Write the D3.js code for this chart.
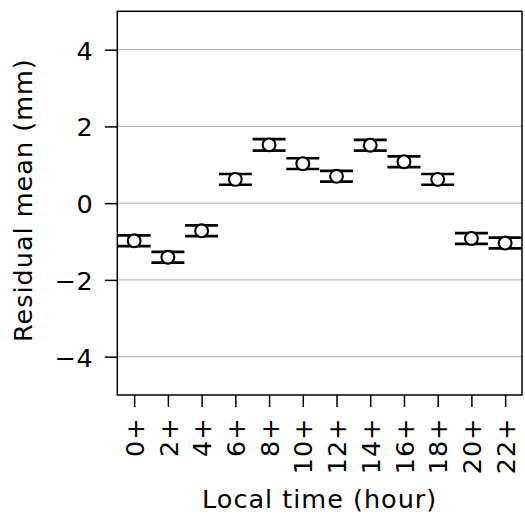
<!DOCTYPE html>
<html>
<head>
<meta charset="utf-8">
<script src="https://cdn.jsdelivr.net/npm/d3@7"></script>
<style>
  html, body { margin: 0; padding: 0; background: #fff; }
  svg text { font-family: "DejaVu Sans", sans-serif; font-size: 25.5px; letter-spacing: 1px; fill: #000; }
</style>
</head>
<body>
<svg id="chart" width="525" height="515"></svg>
<script>
// Mean residual per 2-hour local-time bin, with its uncertainty (mm)
const hours = [0, 2, 4, 6, 8, 10, 12, 14, 16, 18, 20, 22];
const hourLabels = ["0+", "2+", "4+", "6+", "8+", "10+", "12+", "14+", "16+", "18+", "20+", "22+"];
const means = [-0.98, -1.41, -0.72, 0.62, 1.52, 1.03, 0.70, 1.51, 1.08, 0.62, -0.92, -1.04];
const errors = [0.14, 0.14, 0.14, 0.14, 0.15, 0.14, 0.14, 0.14, 0.14, 0.14, 0.14, 0.14];
const yTicks = [-4, -2, 0, 2, 4];

const svg = d3.select("#chart");
const plotLeft = 117.3, plotRight = 522, plotTop = 11.3, plotBottom = 395;

const x = d3.scaleLinear().domain([-1, 23]).range([plotLeft, plotRight]);
const y = d3.scaleLinear().domain([-5, 5]).range([plotBottom, plotTop]);

// horizontal grid lines
svg.append("g")
  .selectAll("line")
  .data(yTicks)
  .join("line")
  .attr("x1", plotLeft).attr("x2", plotRight)
  .attr("y1", d => y(d)).attr("y2", d => y(d))
  .attr("stroke", "#b8b8b8")
  .attr("stroke-width", 1.1);

// y axis
const yAxis = svg.append("g")
  .attr("transform", `translate(${plotLeft},0)`)
  .call(d3.axisLeft(y).tickValues(yTicks).tickSize(12.5).tickPadding(11)
    .tickFormat(d => d < 0 ? "\u2212" + Math.abs(d) : String(d)));
yAxis.select(".domain").remove();
yAxis.attr("font-size", null).attr("font-family", null);
yAxis.selectAll(".tick line").attr("stroke", "#000").attr("stroke-width", 1.5);
yAxis.selectAll(".tick text").attr("dy", "0.37em");

// x axis with rotated labels
const xAxis = svg.append("g")
  .attr("transform", `translate(0,${plotBottom})`)
  .call(d3.axisBottom(x).tickValues(hours).tickSize(12)
    .tickFormat((d, i) => hourLabels[i]));
xAxis.select(".domain").remove();
xAxis.attr("font-size", null).attr("font-family", null);
xAxis.selectAll(".tick line").attr("stroke", "#000").attr("stroke-width", 1.5);
xAxis.selectAll(".tick text")
  .attr("text-anchor", "end")
  .attr("transform", "rotate(-90)")
  .attr("x", -22.5)
  .attr("y", 0)
  .attr("dy", "0.36em");

// frame
svg.append("rect")
  .attr("x", plotLeft).attr("y", plotTop)
  .attr("width", plotRight - plotLeft).attr("height", plotBottom - plotTop)
  .attr("fill", "none").attr("stroke", "#000").attr("stroke-width", 1.5);

// error bars and markers, clipped to the axes
svg.append("clipPath").attr("id", "plotClip")
  .append("rect").attr("x", plotLeft).attr("y", plotTop)
  .attr("width", plotRight - plotLeft).attr("height", plotBottom - plotTop);

const pts = svg.append("g").attr("clip-path", "url(#plotClip)")
  .selectAll("g")
  .data(hours.map((h, i) => ({ h, m: means[i], e: errors[i] })))
  .join("g");

const capHalf = 16.5;
pts.append("line")
  .attr("x1", d => x(d.h)).attr("x2", d => x(d.h))
  .attr("y1", d => y(d.m - d.e)).attr("y2", d => y(d.m + d.e))
  .attr("stroke", "#000").attr("stroke-width", 2.5);
pts.append("line")
  .attr("x1", d => x(d.h) - capHalf).attr("x2", d => x(d.h) + capHalf)
  .attr("y1", d => y(d.m + d.e)).attr("y2", d => y(d.m + d.e))
  .attr("stroke", "#000").attr("stroke-width", 2.7);
pts.append("line")
  .attr("x1", d => x(d.h) - capHalf).attr("x2", d => x(d.h) + capHalf)
  .attr("y1", d => y(d.m - d.e)).attr("y2", d => y(d.m - d.e))
  .attr("stroke", "#000").attr("stroke-width", 2.7);
pts.append("circle")
  .attr("cx", d => x(d.h)).attr("cy", d => y(d.m))
  .attr("r", 6.4)
  .attr("fill", "#fff").attr("stroke", "#000").attr("stroke-width", 2.1);

// axis titles
svg.append("text")
  .attr("x", (plotLeft + plotRight) / 2).attr("y", 508)
  .attr("text-anchor", "middle")
  .text("Local time (hour)");

svg.append("text")
  .attr("transform", `translate(31.5,${(plotTop + plotBottom) / 2 - 3}) rotate(-90)`)
  .attr("text-anchor", "middle")
  .text("Residual mean (mm)");
</script>
</body>
</html>
